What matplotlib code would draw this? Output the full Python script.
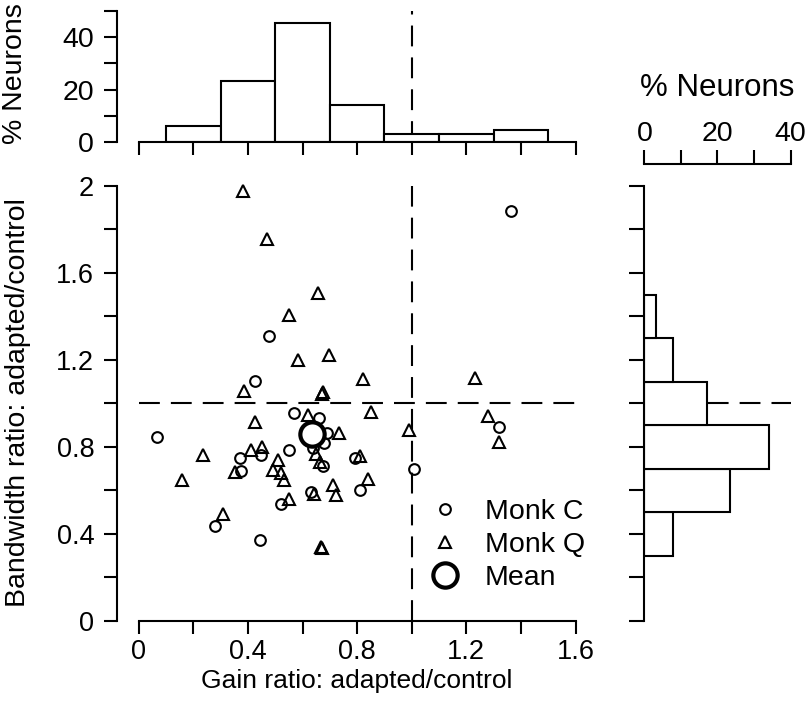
import matplotlib
matplotlib.use('Agg')
import matplotlib.pyplot as plt
import numpy as np

plt.rcParams['font.family'] = ['Liberation Sans', 'DejaVu Sans']

# ---------------- data ----------------
monk_c_gain = [0.066, 0.278, 0.444, 0.371, 0.448, 0.374, 0.552, 0.569, 0.659, 0.689,
               0.679, 0.637, 0.676, 0.794, 0.811, 0.630, 0.521, 0.477, 0.426, 1.364,
               1.320, 1.008]
monk_c_bw = [0.844, 0.436, 0.371, 0.750, 0.762, 0.690, 0.788, 0.954, 0.934, 0.862,
             0.816, 0.793, 0.713, 0.747, 0.601, 0.593, 0.540, 1.311, 1.104, 1.886,
             0.892, 0.698]

monk_q_gain = [0.381, 0.471, 0.658, 0.549, 0.585, 0.698, 0.820, 0.387, 0.674, 0.670,
               1.233, 1.278, 1.321, 0.991, 0.158, 0.237, 0.310, 0.668, 0.672, 0.426,
               0.410, 0.450, 0.354, 0.511, 0.491, 0.520, 0.532, 0.619, 0.735, 0.649,
               0.664, 0.811, 0.841, 0.713, 0.722, 0.642, 0.552, 0.850]
monk_q_bw = [1.978, 1.754, 1.506, 1.406, 1.202, 1.222, 1.112, 1.058, 1.053, 1.045,
             1.115, 0.942, 0.823, 0.880, 0.650, 0.762, 0.494, 0.340, 0.335, 0.913,
             0.785, 0.800, 0.685, 0.742, 0.696, 0.681, 0.650, 0.949, 0.862, 0.767,
             0.731, 0.758, 0.655, 0.624, 0.581, 0.583, 0.563, 0.961]

mean_gain = [0.634]
mean_bw = [0.859]

gain_bin_edges = [0.1, 0.3, 0.5, 0.7, 0.9, 1.1, 1.3, 1.5]
gain_hist_pct = [6.3, 23.4, 45.3, 14.1, 3.1, 3.1, 4.7]

bw_bin_edges = [0.3, 0.5, 0.7, 0.9, 1.1, 1.3, 1.5]
bw_hist_pct = [7.9, 23.3, 34.2, 17.2, 7.9, 3.2]

reference = 1.0

x_major = [0, 0.4, 0.8, 1.2, 1.6]
x_major_labels = ['0', '0.4', '0.8', '1.2', '1.6']
y_major = [0, 0.4, 0.8, 1.2, 1.6, 2.0]
y_major_labels = ['0', '0.4', '0.8', '1.2', '1.6', '2']
pct_major = [0, 20, 40]
pct_labels = ['0', '20', '40']

# ---------------- layout ----------------
W, H = 806, 718
fig = plt.figure(figsize=(W / 100, H / 100), dpi=100)

def px_axes(l, r, t, b):
    return fig.add_axes([l / W, 1 - b / H, (r - l) / W, (b - t) / H])

FS = 19.5
LW = 1.5
DASH = (0, (10, 5.3))

x0_px, x16_px = 138.7, 575.5
xmin = -(x0_px - 117) / ((x16_px - x0_px) / 1.6)

# main
ax = px_axes(117, 575.5, 185.9, 621)
ax.set_xlim(xmin, 1.6)
ax.set_ylim(0, 2)
for s in ['top', 'right']:
    ax.spines[s].set_visible(False)
for s in ['left', 'bottom']:
    ax.spines[s].set_linewidth(LW)
ax.spines['bottom'].set_bounds(0, 1.6)
ax.spines['left'].set_bounds(0, 2)
ax.set_xticks(x_major)
ax.set_xticklabels(x_major_labels)
ax.set_xticks([0.2, 0.6, 1.0, 1.4], minor=True)
ax.set_yticks(y_major)
ax.set_yticklabels(y_major_labels)
ax.set_yticks([0.2, 0.6, 1.0, 1.4, 1.8], minor=True)
ax.tick_params(which='both', direction='out', length=9.4, width=LW, labelsize=FS)
ax.tick_params(axis='x', which='both', pad=3.5)
ax.tick_params(axis='y', which='both', pad=7)

ax.plot([0, 1.6], [reference, reference], color='black', lw=LW, linestyle=DASH, zorder=1)
ax.plot([reference, reference], [0, 2], color='black', lw=LW, linestyle=DASH, zorder=1)

hc, = ax.plot(monk_c_gain, monk_c_bw, linestyle='none', marker='o', ms=7.7, mew=1.5,
              mfc='none', mec='black', zorder=3, label='Monk C', clip_on=False)
hq, = ax.plot(monk_q_gain, monk_q_bw, linestyle='none', marker='^', ms=8.2, mew=1.5,
              mfc='none', mec='black', zorder=3, label='Monk Q', clip_on=False)
hm, = ax.plot(mean_gain, mean_bw, linestyle='none', marker='o', ms=17.5, mew=3.0,
              mfc='white', mec='black', zorder=4, label='Mean')

LFS = 20.5
fs_px = LFS * 100 / 72
leg = ax.legend(handles=[hc, hq, hm], loc='upper left',
                bbox_to_anchor=((445 - 0.5 * fs_px) / W, 1 - 499 / H),
                bbox_transform=fig.transFigure, frameon=False, fontsize=LFS,
                borderpad=0, borderaxespad=0, handlelength=1.0,
                handletextpad=(40 - 0.5 * fs_px) / fs_px, labelspacing=0.25,
                numpoints=1)

# top histogram
axt = px_axes(117, 575.5, 11, 142.2)
axt.set_xlim(xmin, 1.6)
axt.set_ylim(0, 50)
for s in ['top', 'right']:
    axt.spines[s].set_visible(False)
for s in ['left', 'bottom']:
    axt.spines[s].set_linewidth(LW)
axt.spines['bottom'].set_bounds(0, 1.6)
axt.spines['left'].set_bounds(0, 50)
axt.bar(gain_bin_edges[:-1], gain_hist_pct, width=np.diff(gain_bin_edges), align='edge',
        facecolor='white', edgecolor='black', linewidth=LW, zorder=2)
axt.plot([reference, reference], [0, 50], color='black', lw=LW, linestyle=DASH, zorder=1)
axt.set_xticks(np.arange(0, 1.61, 0.2))
axt.set_xticklabels([])
axt.set_yticks(pct_major)
axt.set_yticklabels(pct_labels)
axt.set_yticks([10, 30, 50], minor=True)
axt.tick_params(which='both', direction='out', length=9.4, width=LW, labelsize=20.5)
axt.tick_params(axis='y', which='both', pad=7)

# right histogram
ymax_r = (621 - 164.3) / ((621 - 185.9) / 2)
axr = px_axes(644.4, 790.5, 164.3, 621)
axr.set_xlim(0, 40)
axr.set_ylim(0, ymax_r)
for s in ['bottom', 'right']:
    axr.spines[s].set_visible(False)
for s in ['left', 'top']:
    axr.spines[s].set_linewidth(LW)
axr.spines['left'].set_bounds(0, 2)
axr.barh(bw_bin_edges[:-1], bw_hist_pct, height=np.diff(bw_bin_edges), align='edge',
         facecolor='white', edgecolor='black', linewidth=LW, zorder=2)
axr.plot([0, 40], [reference, reference], color='black', lw=LW, linestyle=DASH, zorder=1)
axr.xaxis.tick_top()
axr.set_xticks(pct_major)
axr.set_xticklabels(pct_labels)
axr.set_xticks([10, 30], minor=True)
axr.set_yticks(np.arange(0, 2.01, 0.2))
axr.set_yticklabels([])
axr.tick_params(which='both', direction='out', width=LW, labelsize=20.5)
axr.tick_params(axis='x', which='both', length=9.9, pad=2.5)
axr.tick_params(axis='y', which='both', length=10.8)

# axis labels
fig.text(357 / W, 1 - 688 / H, 'Gain ratio: adapted/control', ha='center', va='baseline',
         fontsize=19)
fig.text(18 / W, 1 - 403 / H, 'Bandwidth ratio: adapted/control', ha='center', va='center',
         rotation=90, fontsize=20.5)
fig.text(15 / W, 1 - 74 / H, '% Neurons', ha='center', va='center', rotation=90, fontsize=20.5)
fig.text(717 / W, 1 - 88 / H, '% Neurons', ha='center', va='center', fontsize=22.5)

fig.savefig('out.png', dpi=100)
